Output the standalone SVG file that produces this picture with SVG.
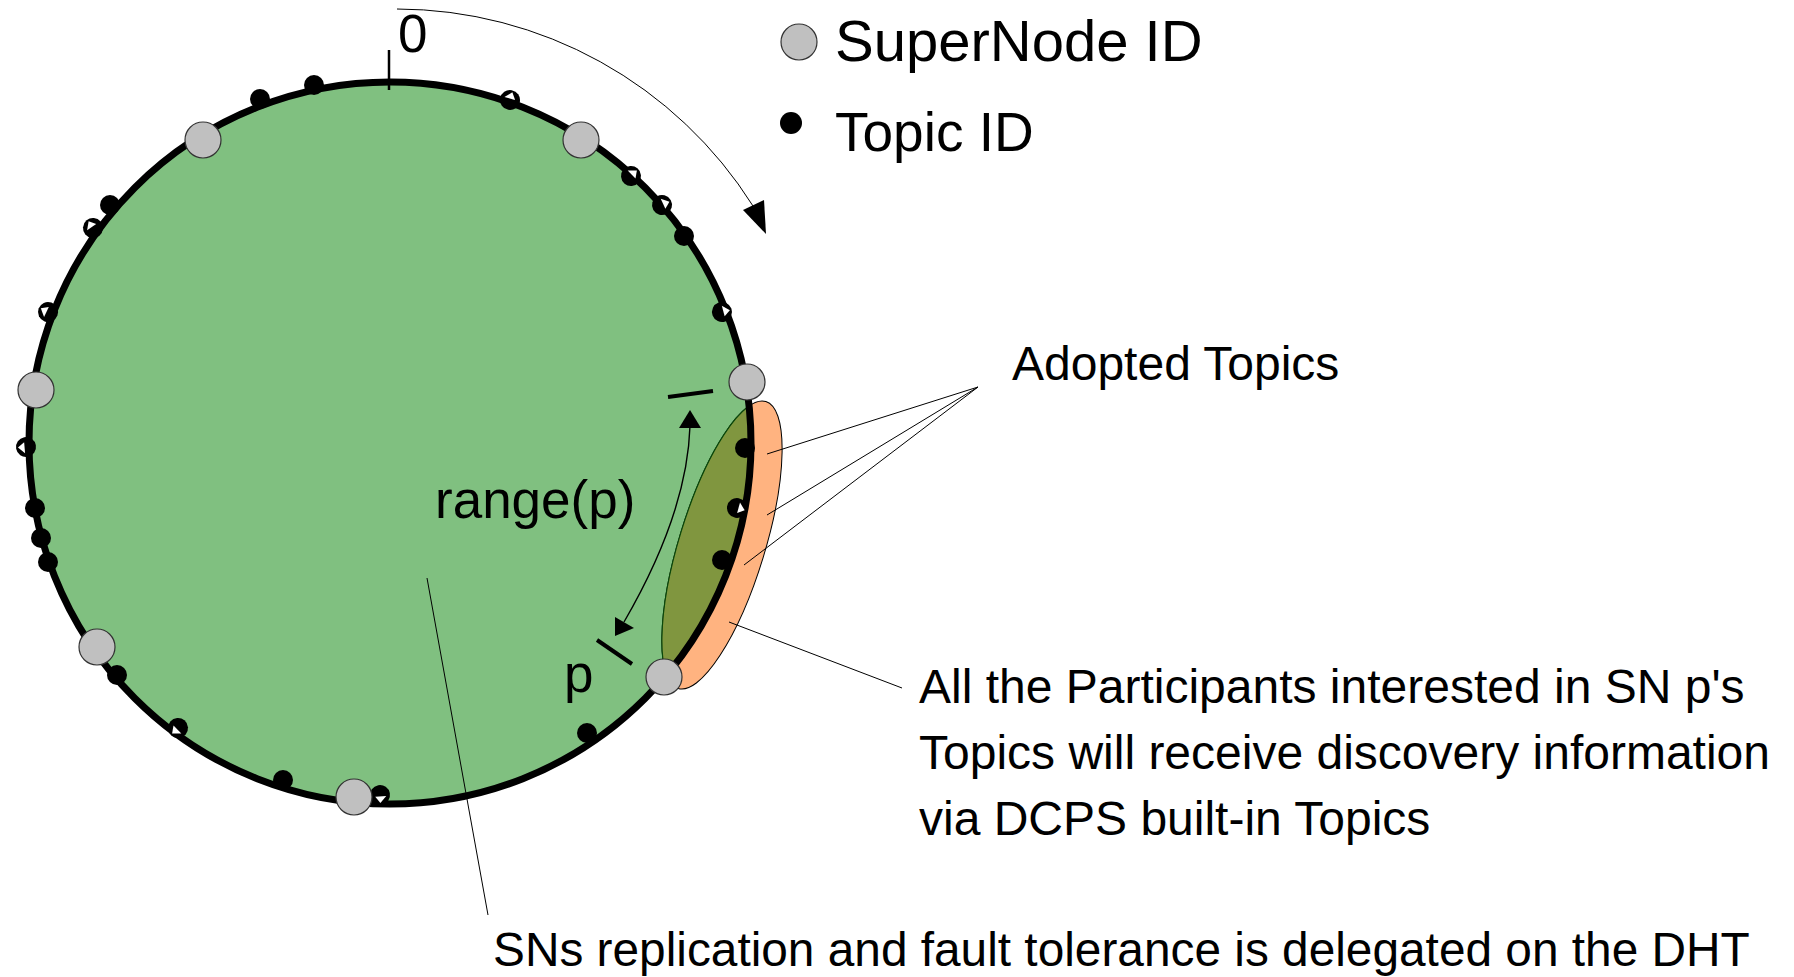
<svg xmlns="http://www.w3.org/2000/svg" width="1794" height="977" viewBox="0 0 1794 977">
  <style>
    .txt { font-family: "Liberation Sans", Arial, sans-serif; fill: #000; }
    .sn { fill: #c0c0c0; stroke: #333; stroke-width: 1.2; }
    .td { fill: #000; }
    .lead { fill: none; stroke: #000; stroke-width: 1; }
    .arw { fill: none; stroke: #000; stroke-width: 1.4; }
    .head { fill: #000; }
  </style>
  <defs>
    <clipPath id="ringInside">
      <circle cx="390" cy="443" r="361"/>
    </clipPath>
    <!-- partially-hidden topic marker -->
    <g id="halfDot">
      <circle r="10" fill="#000"/>
      <polygon points="-6,-2 1,-8 5,-1" fill="#fff"/>
    </g>
  </defs>

  <!-- DHT ring -->
  <g id="ring">
    <circle cx="390" cy="443" r="361" fill="#80c080"/>
  </g>

  <!-- region adopted by SN p -->
  <g id="adopted">
    <ellipse cx="722" cy="545" rx="150" ry="43" transform="rotate(107 722 545)" fill="#ffb380" stroke="#000" stroke-width="1"/>
    <g clip-path="url(#ringInside)">
      <ellipse cx="722" cy="545" rx="150" ry="43" transform="rotate(107 722 545)" fill="#80963f" stroke="#0a4a0a" stroke-width="1.2"/>
    </g>
  </g>

  <g id="ringStroke">
    <circle cx="390" cy="443" r="361" fill="none" stroke="#000" stroke-width="7"/>
    <line x1="389" y1="50" x2="389" y2="90" stroke="#000" stroke-width="2.5"/>
  </g>

  <!-- topic IDs -->
  <g id="topics">
    <circle class="td" cx="260" cy="99" r="10"/>
    <circle class="td" cx="314" cy="85" r="10"/>
    <circle class="td" cx="684" cy="236" r="10"/>
    <circle class="td" cx="110" cy="205" r="10"/>
    <circle class="td" cx="745" cy="448" r="10"/>
    <circle class="td" cx="35" cy="508" r="10"/>
    <circle class="td" cx="41" cy="538" r="10"/>
    <circle class="td" cx="48" cy="562" r="10"/>
    <circle class="td" cx="722" cy="560" r="10"/>
    <circle class="td" cx="117" cy="675" r="10"/>
    <circle class="td" cx="283" cy="780" r="10"/>
    <circle class="td" cx="587" cy="733" r="10"/>
    <use href="#halfDot" transform="translate(510 100) rotate(10)"/>
    <use href="#halfDot" transform="translate(631 176) rotate(40)"/>
    <use href="#halfDot" transform="translate(662 205) rotate(60)"/>
    <use href="#halfDot" transform="translate(93 228) rotate(-40)"/>
    <use href="#halfDot" transform="translate(48 312) rotate(-70)"/>
    <use href="#halfDot" transform="translate(722 312) rotate(70)"/>
    <use href="#halfDot" transform="translate(26 447) rotate(-100)"/>
    <use href="#halfDot" transform="translate(737 508) rotate(100)"/>
    <use href="#halfDot" transform="translate(178 728) rotate(-140)"/>
    <use href="#halfDot" transform="translate(380 795) rotate(170)"/>
  </g>

  <!-- SuperNode IDs -->
  <g id="supernodes">
    <circle class="sn" cx="203" cy="140" r="18"/>
    <circle class="sn" cx="581" cy="140" r="18"/>
    <circle class="sn" cx="36" cy="390" r="18"/>
    <circle class="sn" cx="747" cy="382" r="18"/>
    <circle class="sn" cx="97" cy="647" r="18"/>
    <circle class="sn" cx="354" cy="797" r="18"/>
    <circle class="sn" cx="664" cy="677" r="18"/>
  </g>

  <!-- connectors -->
  <g id="connectors">
    <!-- clockwise direction -->
    <path class="lead" d="M 397 9 A 422 422 0 0 1 753 206"/>
    <polygon class="head" points="743,210 764,200 766,234"/>
    <!-- range(p) span -->
    <line x1="668" y1="397" x2="713" y2="391" stroke="#000" stroke-width="4"/>
    <line x1="597" y1="640" x2="632" y2="664" stroke="#000" stroke-width="4"/>
    <path class="arw" d="M 690 426 C 688 490 660 560 624 622"/>
    <polygon class="head" points="690,410 679,428 701,428"/>
    <polygon class="head" points="615,636 615,617 634,628"/>
    <!-- leaders -->
    <line class="lead" x1="978" y1="387" x2="767" y2="454"/>
    <line class="lead" x1="978" y1="387" x2="767" y2="515"/>
    <line class="lead" x1="978" y1="387" x2="744" y2="565"/>
    <line class="lead" x1="729" y1="622" x2="902" y2="688"/>
    <line class="lead" x1="427" y1="578" x2="488" y2="915"/>
  </g>

  <!-- labels -->
  <g id="labels">
    <text class="txt" x="398" y="52" font-size="53">0</text>
    <text class="txt" x="435" y="518" font-size="53">range(p)</text>
    <text class="txt" x="564" y="692" font-size="53">p</text>
    <text class="txt" x="1012" y="380" font-size="48">Adopted Topics</text>
    <text class="txt" x="919" y="703" font-size="48">All the Participants interested in SN p's</text>
    <text class="txt" x="919" y="769" font-size="48">Topics will receive discovery information</text>
    <text class="txt" x="919" y="835" font-size="48">via DCPS built-in Topics</text>
    <text class="txt" x="493" y="966" font-size="47.8">SNs replication and fault tolerance is delegated on the DHT</text>
  </g>

  <!-- legend -->
  <g id="legend">
    <circle class="sn" cx="799" cy="42" r="18"/>
    <text class="txt" x="835" y="61" font-size="58">SuperNode ID</text>
    <circle class="td" cx="791" cy="123" r="11"/>
    <text class="txt" x="835" y="151" font-size="55">Topic ID</text>
  </g>
</svg>
